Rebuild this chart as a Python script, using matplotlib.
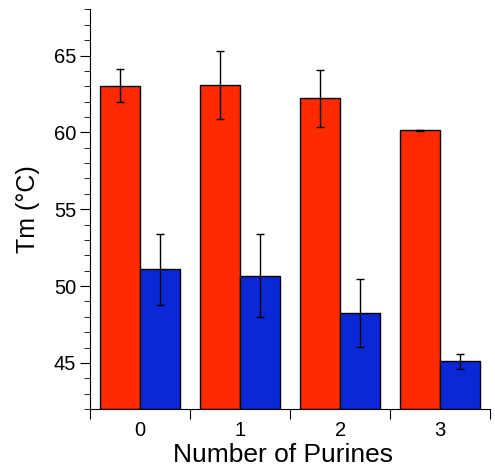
import matplotlib
matplotlib.use("Agg")
import matplotlib.pyplot as plt
import numpy as np
from matplotlib.ticker import MultipleLocator, FixedLocator, NullFormatter, FixedFormatter

plt.rcParams['font.family'] = ['Liberation Sans', 'DejaVu Sans']

categories = ['0', '1', '2', '3']
red_vals = [63.05, 63.1, 62.23, 60.13]
red_err = [1.05, 2.2, 1.85, 0.05]
blue_vals = [51.08, 50.67, 48.25, 45.1]
blue_err = [2.3, 2.7, 2.2, 0.5]

fig = plt.figure(figsize=(4.95, 4.72), dpi=100)
ax = fig.add_axes([0.182, 0.1335, 0.808, 0.8465])

x = np.arange(len(categories))
w = 0.4
base = 42
ax.bar(x - w/2, np.array(red_vals) - base, w, bottom=base, color='#FF2A00', edgecolor='black', linewidth=1,
       yerr=red_err, error_kw=dict(ecolor='black', elinewidth=1, capsize=3, capthick=1))
ax.bar(x + w/2, np.array(blue_vals) - base, w, bottom=base, color='#0A28D8', edgecolor='black', linewidth=1,
       yerr=blue_err, error_kw=dict(ecolor='black', elinewidth=1, capsize=3, capthick=1))

ax.set_ylim(42, 68)
ax.set_xlim(-0.5, 3.5)
ax.yaxis.set_major_locator(FixedLocator([45, 50, 55, 60, 65]))
ax.yaxis.set_minor_locator(MultipleLocator(1))
ax.xaxis.set_major_locator(FixedLocator([-0.5, 0.5, 1.5, 2.5, 3.5]))
ax.xaxis.set_major_formatter(NullFormatter())
ax.xaxis.set_minor_locator(FixedLocator(x))
ax.xaxis.set_minor_formatter(FixedFormatter(categories))
ax.tick_params(axis='x', which='minor', length=0, labelsize=14.5, pad=9)
ax.tick_params(axis='x', which='major', length=7, direction='out')
ax.tick_params(axis='y', which='major', length=7, direction='out', labelsize=14.5, pad=3)
ax.tick_params(axis='y', which='minor', length=4, direction='out')

for s in ['top', 'right']:
    ax.spines[s].set_visible(False)

ax.set_xlabel('Number of Purines', fontsize=19)
ax.xaxis.set_label_coords(0.4825, -0.085)
ax.set_ylabel('Tm (°C)', fontsize=18, labelpad=10)

fig.savefig('out.png', dpi=100)
